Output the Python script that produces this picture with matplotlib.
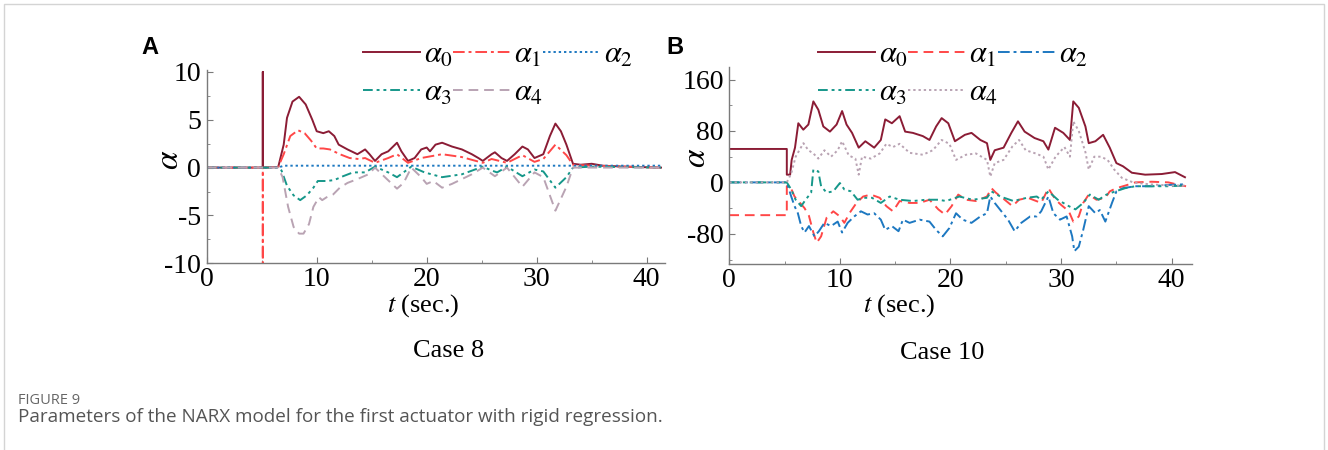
import matplotlib
matplotlib.use("Agg")
import matplotlib.pyplot as plt
from matplotlib.patches import Rectangle

plt.rcParams["font.family"] = "Liberation Serif"
plt.rcParams["mathtext.fontset"] = "stix"
plt.rcParams["axes.unicode_minus"] = False

COLORS = ["#8b1c35", "#ff4747", "#1d78c1", "#16978a", "#b9a3b3"]
LABELS = [r"$\alpha_0$", r"$\alpha_1$", r"$\alpha_2$", r"$\alpha_3$", r"$\alpha_4$"]

# ---- Case 8 (panel A) ----
c8_t0 = [0, 5.1, 5.1, 5.1, 6.5, 7.0, 7.3, 7.8, 8.4, 9.0, 9.6, 10.0, 10.6, 11.1, 11.6, 12.0,
         12.8, 13.7, 14.4, 14.8, 15.3, 15.9, 16.5, 17.3, 17.7, 18.3, 18.9, 19.5, 20.0, 20.3,
         20.8, 21.4, 22.3, 23.2, 24.1, 24.7, 25.1, 25.9, 26.2, 26.8, 27.3, 28.0, 28.7, 29.2,
         29.8, 30.6, 31.2, 31.7, 32.2, 32.7, 33.3, 34.0, 35.0, 36.0, 38.0, 41.3]
c8_a0 = [0, 0, 10, 0, 0.05, 2.4, 5.2, 6.9, 7.4, 6.6, 5.0, 3.8, 3.6, 3.8, 3.3, 2.4,
         1.9, 1.4, 1.9, 1.4, 0.7, 1.4, 1.7, 2.6, 1.7, 0.7, 1.0, 1.9, 2.1, 1.7,
         2.4, 2.6, 2.2, 1.9, 1.4, 1.0, 0.7, 1.4, 1.6, 1.0, 0.7, 1.4, 2.2, 1.9,
         1.0, 1.4, 3.3, 4.6, 3.8, 2.4, 0.4, 0.3, 0.4, 0.2, 0.1, 0.0]
c8_t1 = [0, 5.1, 5.1, 5.1, 6.5, 7.0, 7.6, 8.3, 8.9, 9.5, 10.0, 10.6, 11.2, 12.1, 13.0, 13.8,
         14.4, 15.3, 16.5, 17.3, 18.3, 19.5, 21.4, 23.2, 25.1, 25.9, 27.3, 28.7, 29.8, 30.6,
         31.7, 32.7, 33.3, 35.0, 41.3]
c8_a1 = [0, 0, -10, 0, 0.05, 1.4, 3.3, 3.9, 3.6, 2.8, 2.0, 2.0, 1.9, 1.4, 1.0, 0.9,
         1.0, 0.5, 1.0, 1.4, 0.5, 1.0, 1.4, 1.1, 0.5, 0.9, 0.5, 1.3, 0.6, 0.9,
         2.4, 1.3, 0.3, 0.2, 0.0]
c8_t2 = [0, 6.5, 7.0, 41.3]
c8_a2 = [0, 0, 0.2, 0.2]
c8_t3 = [0, 6.5, 6.8, 7.3, 7.9, 8.5, 9.1, 9.7, 10.1, 10.9, 11.6, 12.4, 13.3, 14.4, 15.3, 16.5,
         17.3, 18.6, 19.8, 21.4, 23.2, 25.1, 25.9, 26.4, 27.3, 28.7, 29.8, 30.6, 31.7, 32.7,
         33.3, 35.0, 41.3]
c8_a3 = [0, 0, -0.3, -1.9, -2.9, -3.4, -2.9, -2.1, -1.4, -1.4, -1.3, -0.9, -0.5, -0.5, 0.1, -0.5,
         -1.0, 0.1, -0.5, -1.0, -0.7, 0.1, -0.3, -0.5, 0.1, -0.9, -0.2, -0.4, -2.1, -1.0,
         0.0, 0.1, 0.0]
c8_t4 = [0, 6.5, 6.9, 7.4, 7.9, 8.4, 8.8, 9.3, 9.7, 10.2, 10.5, 10.9, 11.5, 12.1, 12.8, 13.7,
         14.1, 14.7, 15.3, 16.2, 17.3, 17.9, 18.6, 19.5, 20.0, 20.6, 21.4, 22.3, 23.2, 24.1,
         25.1, 26.2, 27.3, 28.7, 29.8, 30.6, 31.7, 32.7, 33.3, 35.0, 41.3]
c8_a4 = [0, 0, -1.0, -4.1, -6.2, -6.9, -6.9, -5.9, -4.1, -3.1, -3.4, -3.1, -2.8, -2.1, -1.6, -1.2,
         -1.0, -0.7, 0.0, -1.0, -2.2, -1.6, 0.0, -1.0, -1.7, -1.4, -2.1, -1.7, -1.2, -0.7,
         0.0, -0.9, 0.0, -2.0, -0.5, -1.0, -4.5, -2.0, 0.0, 0.0, 0.0]

# ---- Case 10 (panel B) ----
c10_t0 = [0, 5.2, 5.2, 5.5, 5.64, 5.94, 6.24, 6.69, 7.15, 7.6, 8.05, 8.5, 9.1, 9.7, 10.2, 10.6,
          11.1, 11.7, 12.3, 13.1, 13.7, 14.1, 14.7, 15.4, 15.9, 16.6, 17.5, 18.1, 18.7, 19.2,
          19.8, 20.4, 21.3, 21.9, 22.7, 23.3, 23.6, 24.0, 24.8, 25.5, 26.1, 26.7, 27.6, 28.4,
          28.85, 29.45, 30.2, 30.8, 31.1, 31.6, 32.2, 32.5, 33.1, 33.8, 34.4, 35.0, 35.6, 36.4,
          37.6, 39.1, 40.3, 41.2]
c10_a0 = [52, 52, 12, 12, 35, 54, 92, 82, 90, 126, 113, 87, 79, 90, 111, 90,
          77, 54, 64, 54, 66, 98, 92, 103, 79, 77, 72, 66, 87, 100,
          92, 64, 74, 77, 66, 61, 35, 50, 54, 77, 95, 79, 69, 64,
          51, 85, 77, 66, 126, 116, 87, 61, 64, 74, 54, 30, 25, 15,
          12, 13, 16, 8]
c10_t1 = [0, 5.2, 5.2, 5.5, 5.9, 6.4, 6.8, 7.2, 7.6, 7.9, 8.3, 8.8, 9.4, 10.0, 10.4, 10.9,
          11.5, 12.1, 12.8, 13.6, 14.2, 14.8, 15.4, 16.3, 17.2, 18.1, 18.9, 19.5, 20.1, 20.7,
          21.4, 22.3, 23.3, 23.7, 24.1, 24.9, 25.6, 26.2, 27.0, 28.2, 28.85, 29.5, 30.0, 30.7,
          31.1, 31.6, 32.0, 32.5, 33.2, 34.0, 34.4, 35.0, 35.8, 36.7, 38.2, 39.7, 40.9, 41.3]
c10_a1 = [-51, -51, -6, -6, -22, -32, -40, -52, -78, -94, -84, -55, -45, -53, -63, -47,
          -32, -22, -19, -24, -37, -45, -29, -32, -32, -27, -42, -50, -37, -19,
          -27, -29, -22, -9, -16, -27, -37, -27, -24, -32, -9, -27, -35, -45,
          -61, -53, -32, -19, -27, -24, -14, -9, -5, 0, 1, 0, -5, -6]
c10_t2 = [0, 5.2, 5.6, 5.9, 6.2, 6.5, 6.8, 7.2, 7.7, 8.1, 8.6, 9.2, 9.8, 10.2, 10.7, 11.3,
          11.9, 12.5, 13.1, 13.7, 14.1, 14.7, 15.3, 15.7, 16.3, 17.2, 18.1, 18.7, 19.3, 19.9,
          20.5, 21.1, 21.9, 22.7, 23.3, 23.6, 24.0, 24.6, 25.2, 25.8, 26.4, 27.2, 27.8, 28.2,
          28.85, 29.3, 29.9, 30.5, 31.0, 31.2, 31.6, 32.0, 32.5, 33.1, 33.5, 34.0, 34.6, 35.0,
          35.6, 36.7, 38.2, 39.7, 41.2]
c10_a2 = [0, 0, -22, -37, -48, -68, -78, -68, -84, -76, -63, -68, -61, -78, -63, -53,
          -45, -50, -48, -58, -74, -68, -76, -58, -63, -58, -61, -74, -84, -71,
          -48, -58, -63, -53, -48, -22, -32, -45, -58, -76, -63, -53, -53, -45,
          -22, -48, -58, -53, -84, -107, -100, -74, -37, -48, -43, -61, -32, -14,
          -9, -6, -6, -4, -3]
c10_t3 = [0, 5.2, 5.6, 6.0, 6.5, 6.9, 7.4, 7.6, 8.05, 8.3, 8.8, 9.4, 10.0, 10.4, 11.0, 11.6,
          12.2, 12.9, 13.7, 14.5, 15.4, 16.6, 17.8, 18.9, 19.6, 20.8, 22.0, 23.3, 23.7, 24.5,
          25.7, 26.9, 27.8, 28.2, 28.85, 29.7, 30.7, 31.3, 32.0, 32.6, 33.4, 34.1, 34.9, 35.8,
          36.7, 38.2, 39.7, 41.2]
c10_a3 = [0, 0, -11, -27, -37, -27, -16, 20, 17, -6, -16, -14, -1, -11, -14, -27,
          -24, -24, -32, -22, -27, -29, -27, -27, -29, -22, -27, -24, -14, -22,
          -29, -24, -22, -27, -14, -27, -37, -42, -32, -19, -27, -19, -14, -9,
          -6, -6, -6, -5]
c10_t4 = [0, 5.2, 5.6, 6.0, 6.7, 7.15, 7.6, 8.05, 8.6, 9.2, 9.8, 10.2, 10.8, 11.4, 11.7, 12.0,
          12.8, 13.6, 14.2, 14.8, 15.4, 16.3, 17.5, 18.4, 19.2, 19.9, 20.5, 21.4, 22.3, 23.3,
          23.6, 24.0, 24.8, 25.6, 26.2, 26.8, 27.7, 28.4, 28.85, 29.5, 30.3, 30.8, 31.1, 31.6,
          32.2, 32.5, 33.0, 33.6, 34.2, 34.8, 35.5, 36.5, 38.0, 40.0, 41.2]
c10_a4 = [0, 0, 14, 40, 61, 50, 45, 37, 50, 40, 50, 64, 42, 37, 12, 40,
          37, 45, 60, 55, 60, 46, 43, 50, 66, 60, 35, 43, 45, 35,
          9, 30, 35, 56, 66, 50, 45, 40, 20, 40, 55, 40, 95, 80,
          47, 20, 40, 40, 35, 20, 7, 0, -3, -5, -5]

DASHDOT = (0, (6, 2, 1.5, 2))
DOTTED = (0, (1.2, 1.5))
DASHDOTDOT = (0, (5, 2, 1.5, 2, 1.5, 2))
DASHED = (0, (5, 3))

W, H = 1328, 450
fig = plt.figure(figsize=(W / 100, H / 100), dpi=100)
fig.add_artist(Rectangle((4 / W, -0.1), 1320 / W, 1.1 - 4 / H, transform=fig.transFigure,
                         fill=False, edgecolor="#d4d4d4", lw=1.0))


def fx(px):
    return px / W


def fy(py):
    return 1 - py / H


def style(ax, xmax, ylim, yticks, yminor):
    ax.set_xlim(0, xmax)
    ax.set_ylim(*ylim)
    ax.patch.set_alpha(0)
    for s in ("top", "right"):
        ax.spines[s].set_visible(False)
    for s in ("left", "bottom"):
        ax.spines[s].set_color("#7a7a7a")
        ax.spines[s].set_linewidth(1.0)
    ax.set_xticks([0, 10, 20, 30, 40])
    ax.set_xticks([5, 15, 25, 35], minor=True)
    ax.set_yticks(yticks)
    ax.set_yticks(yminor, minor=True)
    ax.tick_params(which="both", direction="in", color="#7a7a7a", labelsize=20)
    ax.tick_params(axis="y", pad=4)
    ax.tick_params(axis="x", pad=3)
    ax.tick_params(which="major", length=4)
    ax.tick_params(which="minor", length=2.5)


def add_legend(ax, lines, x0, y0):
    order = [0, 3, 1, 4, 2]
    ax.legend([lines[i] for i in order], [LABELS[i] for i in order], ncol=3,
              loc="upper left", bbox_to_anchor=(fx(x0), fy(y0)),
              bbox_transform=fig.transFigure, frameon=False, fontsize=22,
              handlelength=1.85, handletextpad=0.15, columnspacing=0.0,
              labelspacing=0.3, borderpad=0, borderaxespad=0)


# panel A
axA = fig.add_axes([fx(206.7), fy(263.3), (665.4 - 206.7) / W, (263.3 - 70) / H])
styles_a = ["-", DASHDOT, DOTTED, DASHDOTDOT, DASHED]
series_a = [(c8_t0, c8_a0), (c8_t1, c8_a1), (c8_t2, c8_a2), (c8_t3, c8_a3), (c8_t4, c8_a4)]
lines_a = []
for (t, v), c, ls in zip(series_a, COLORS, styles_a):
    ln, = axA.plot(t, v, color=c, ls=ls, lw=1.4)
    lines_a.append(ln)
style(axA, 41.7, (-10, 10.2), [-10, -5, 0, 5, 10], [-7.5, -2.5, 2.5, 7.5])
add_legend(axA, lines_a, 363, 41)

# panel B
axB = fig.add_axes([fx(729.3), fy(264), (1191.6 - 729.3) / W, (264 - 66.7) / H])
styles_b = ["-", DASHED, DASHDOT, DASHDOTDOT, DOTTED]
series_b = [(c10_t0, c10_a0), (c10_t1, c10_a1), (c10_t2, c10_a2), (c10_t3, c10_a3),
            (c10_t4, c10_a4)]
lines_b = []
for (t, v), c, ls in zip(series_b, COLORS, styles_b):
    ln, = axB.plot(t, v, color=c, ls=ls, lw=1.4)
    lines_b.append(ln)
style(axB, 41.8, (-127, 180), [-80, 0, 80, 160], [-120, -40, 40, 120])
add_legend(axB, lines_b, 818, 41)

# labels
fig.text(fx(423), fy(306), r"$t$ (sec.)", ha="center", va="center", fontsize=19)
fig.text(fx(899), fy(306), r"$t$ (sec.)", ha="center", va="center", fontsize=19)
fig.text(fx(449), fy(351), "Case 8", ha="center", va="center", fontsize=19)
fig.text(fx(942), fy(353), "Case 10", ha="center", va="center", fontsize=19)
fig.text(fx(170), fy(160), r"$\alpha$", rotation=90, ha="center", va="center", fontsize=24)
fig.text(fx(697), fy(158), r"$\alpha$", rotation=90, ha="center", va="center", fontsize=24)
fig.text(fx(150), fy(48), "A", ha="center", va="center", fontsize=17, fontweight="bold",
         family="Liberation Sans")
fig.text(fx(675), fy(47), "B", ha="center", va="center", fontsize=17, fontweight="bold",
         family="Liberation Sans")

# caption
fig.text(fx(18), fy(400), "FIGURE 9", ha="left", va="center", fontsize=10.5,
         family="Open Sans", color="#666666")
fig.text(fx(18), fy(417), "Parameters of the NARX model for the first actuator with rigid regression.",
         ha="left", va="center", fontsize=13.6, family="Open Sans", color="#555555")

fig.savefig("out.png", dpi=100)
